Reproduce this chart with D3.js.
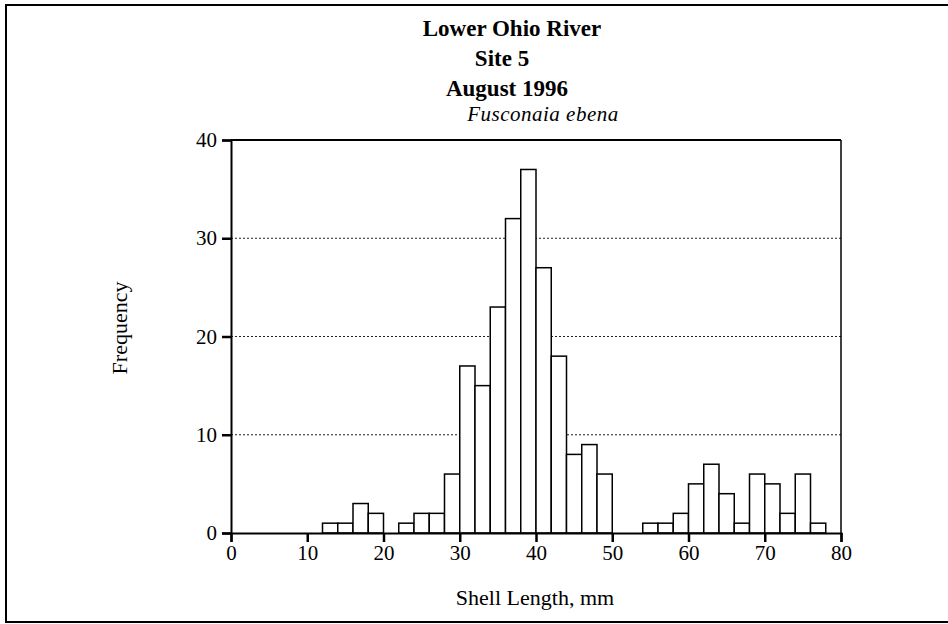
<!DOCTYPE html>
<html>
<head>
<meta charset="utf-8">
<script src="https://cdn.jsdelivr.net/npm/d3@7"></script>
<style>
  body { margin: 0; background: #fff; }
  svg { display: block; }
  text { font-family: "Liberation Serif", "Times New Roman", serif; fill: #000; }
</style>
</head>
<body>
<div id="chart"></div>
<script>
// histogram data, 2 mm bins (left edge of each bin)
var binStarts = [12, 14, 16, 18, 20, 22, 24, 26, 28, 30, 32, 34, 36, 38, 40, 42, 44, 46, 48,
                 50, 52, 54, 56, 58, 60, 62, 64, 66, 68, 70, 72, 74, 76]
var counts    = [1, 1, 3, 2, 0, 1, 2, 2, 6, 17, 15, 23, 32, 37, 27, 18, 8, 9, 6,
                 0, 0, 1, 1, 2, 5, 7, 4, 1, 6, 5, 2, 6, 1]
var binWidth = 2
var xTicks = [0, 10, 20, 30, 40, 50, 60, 70, 80]
var yTicks = [0, 10, 20, 30, 40]
var gridTicks = [10, 20, 30]
var titleLines = ["Lower Ohio River", "Site 5", "August 1996"]
var species = "Fusconaia ebena"

var width = 948,
    height = 624

var svg = d3.select("#chart")
  .append("svg")
    .attr("width", width)
    .attr("height", height)

// outer frame (right edge runs off the page)
svg.append("rect")
  .attr("x", 6).attr("y", 5)
  .attr("width", 960).attr("height", 617)
  .attr("fill", "none")
  .attr("stroke", "#000")
  .attr("stroke-width", 2)

var x = d3.scaleLinear().domain([0, 80]).range([231, 841])
var y = d3.scaleLinear().domain([0, 40]).range([533, 140])

// dotted grid lines
svg.selectAll(".grid")
  .data(gridTicks)
  .enter()
  .append("line")
    .attr("x1", x(0)).attr("x2", x(80))
    .attr("y1", function(d) { return y(d) })
    .attr("y2", function(d) { return y(d) })
    .attr("stroke", "#222")
    .attr("stroke-width", 1.2)
    .attr("stroke-dasharray", "2,2")

// bars (empty bins are skipped)
var bins = binStarts.map(function(s, i) { return {start: s, count: counts[i]} })
  .filter(function(d) { return d.count > 0 })

svg.selectAll(".bar")
  .data(bins)
  .enter()
  .append("rect")
    .attr("x", function(d) { return x(d.start) })
    .attr("y", function(d) { return y(d.count) })
    .attr("width", function(d) { return x(d.start + binWidth) - x(d.start) })
    .attr("height", function(d) { return y(0) - y(d.count) })
    .attr("fill", "#fff")
    .attr("stroke", "#000")
    .attr("stroke-width", 1.5)

// plot box: top and right edges
svg.append("line")
  .attr("x1", x(0)).attr("x2", x(80))
  .attr("y1", y(40)).attr("y2", y(40))
  .attr("stroke", "#000").attr("stroke-width", 2)
svg.append("line")
  .attr("x1", x(80)).attr("x2", x(80))
  .attr("y1", y(40)).attr("y2", y(0))
  .attr("stroke", "#000").attr("stroke-width", 1.5)

// y axis
var yAxis = svg.append("g")
  .attr("transform", "translate(" + x(0) + ",0)")
  .call(d3.axisLeft(y).tickValues(yTicks).tickSize(9).tickPadding(5).tickFormat(d3.format("d")))
yAxis.select(".domain").attr("stroke-width", 2)
yAxis.selectAll(".tick line").attr("stroke-width", 2.5)
yAxis.selectAll("text").style("font-size", "21px").attr("fill", "#000")

// x axis
var xAxis = svg.append("g")
  .attr("transform", "translate(0," + y(0) + ")")
  .call(d3.axisBottom(x).tickValues(xTicks).tickSize(9).tickPadding(3).tickFormat(d3.format("d")))
xAxis.select(".domain").attr("stroke-width", 2)
xAxis.selectAll(".tick line").attr("stroke-width", 2.5)
xAxis.selectAll("text").style("font-size", "21px").attr("fill", "#000")

// titles
var titleX = [512, 502, 507]
var titleY = [36, 66, 96]
svg.selectAll(".title")
  .data(titleLines)
  .enter()
  .append("text")
    .attr("x", function(d, i) { return titleX[i] })
    .attr("y", function(d, i) { return titleY[i] })
    .attr("text-anchor", "middle")
    .style("font-size", "23px")
    .style("font-weight", "bold")
    .text(function(d) { return d })

svg.append("text")
  .attr("x", 543).attr("y", 121)
  .attr("text-anchor", "middle")
  .style("font-size", "21px")
  .style("font-style", "italic")
  .style("letter-spacing", "0.5px")
  .text(species)

// axis titles
svg.append("text")
  .attr("x", 535).attr("y", 605)
  .attr("text-anchor", "middle")
  .style("font-size", "22px")
  .text("Shell Length, mm")

svg.append("text")
  .attr("transform", "translate(127,328) rotate(-90)")
  .attr("text-anchor", "middle")
  .style("font-size", "22px")
  .text("Frequency")
</script>
</body>
</html>
